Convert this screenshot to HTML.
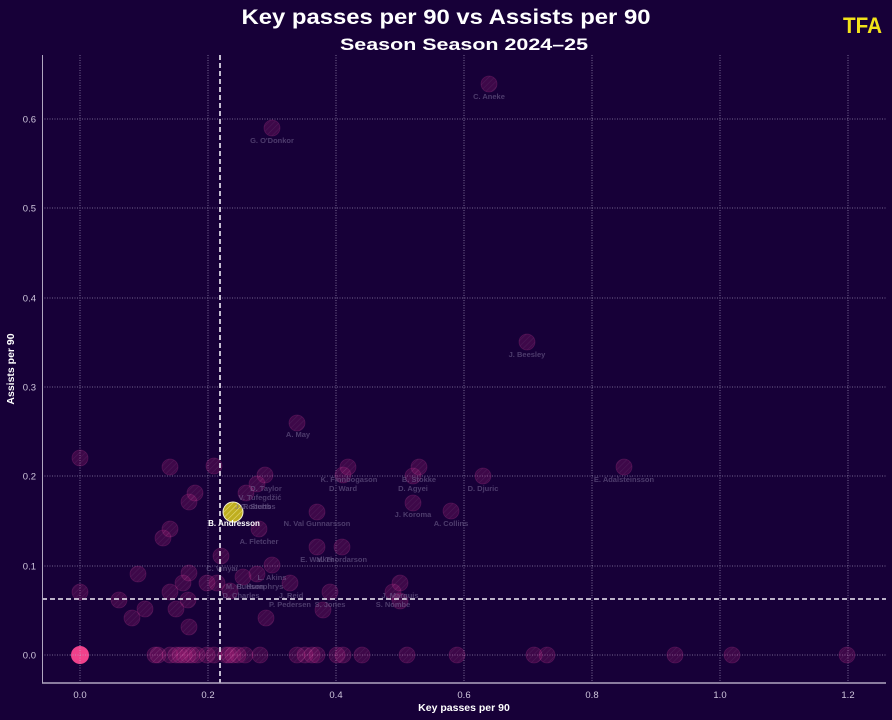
<!DOCTYPE html>
<html><head><meta charset="utf-8">
<style>
html,body{margin:0;padding:0;background:#170038;}
svg{display:block;}
text{font-family:"Liberation Sans","DejaVu Sans",sans-serif;}
.tk{font-family:"DejaVu Sans","Liberation Sans",sans-serif;font-size:9.5px;fill:#cfc6dc;}
.lb{font-size:7.5px;font-weight:bold;fill:#7a6c98;fill-opacity:0.55;text-anchor:middle;}
</style></head>
<body>
<svg width="892" height="720" viewBox="0 0 892 720" xmlns="http://www.w3.org/2000/svg">
<defs>
<pattern id="h" patternUnits="userSpaceOnUse" width="4" height="4" patternTransform="rotate(45)">
<rect width="4" height="4" fill="#b8237e"/>
<line x1="0" y1="0" x2="0" y2="4" stroke="#f070bc" stroke-width="1.1"/>
</pattern>
<pattern id="hy" patternUnits="userSpaceOnUse" width="4" height="4" patternTransform="rotate(45)">
<rect width="4" height="4" fill="#bfae1f"/>
<line x1="0" y1="0" x2="0" y2="4" stroke="#e6dc7a" stroke-width="1.2"/>
</pattern>
</defs>
<rect width="892" height="720" fill="#170038"/>

<!-- titles -->
<text x="446" y="24" text-anchor="middle" font-size="21" font-weight="bold" fill="#ffffff" textLength="409" lengthAdjust="spacingAndGlyphs">Key passes per 90 vs Assists per 90</text>
<text x="464" y="50" text-anchor="middle" font-size="17" font-weight="bold" fill="#ffffff" textLength="248" lengthAdjust="spacingAndGlyphs">Season Season 2024–25</text>
<text x="843" y="33" font-size="22" font-weight="bold" fill="#f2e21a" textLength="39" lengthAdjust="spacingAndGlyphs">TFA</text>

<!-- grid -->
<g stroke="#b0a6c8" stroke-opacity="0.8" stroke-width="0.8" stroke-dasharray="1,1.5">
<line x1="80" y1="55" x2="80" y2="683"/>
<line x1="208" y1="55" x2="208" y2="683"/>
<line x1="336" y1="55" x2="336" y2="683"/>
<line x1="464" y1="55" x2="464" y2="683"/>
<line x1="592" y1="55" x2="592" y2="683"/>
<line x1="720" y1="55" x2="720" y2="683"/>
<line x1="848" y1="55" x2="848" y2="683"/>
<line x1="42" y1="655" x2="886" y2="655"/>
<line x1="42" y1="566" x2="886" y2="566"/>
<line x1="42" y1="476" x2="886" y2="476"/>
<line x1="42" y1="387" x2="886" y2="387"/>
<line x1="42" y1="298" x2="886" y2="298"/>
<line x1="42" y1="208" x2="886" y2="208"/>
<line x1="42" y1="119" x2="886" y2="119"/>
</g>

<!-- dots -->
<g fill="url(#h)" fill-opacity="0.24" stroke="#d4409a" stroke-opacity="0.22" stroke-width="0.8">
<circle cx="489" cy="84" r="8"/>
<circle cx="272" cy="128" r="8"/>
<circle cx="527" cy="342" r="8"/>
<circle cx="297" cy="423" r="8"/>
<circle cx="80" cy="458" r="8"/>
<circle cx="170" cy="467" r="8"/>
<circle cx="214" cy="466" r="8"/>
<circle cx="265" cy="475" r="8"/>
<circle cx="348" cy="467" r="8"/>
<circle cx="343" cy="475" r="8"/>
<circle cx="419" cy="467" r="8"/>
<circle cx="413" cy="476" r="8"/>
<circle cx="483" cy="476" r="8"/>
<circle cx="624" cy="467" r="8"/>
<circle cx="257" cy="484" r="8"/>
<circle cx="246" cy="493" r="8"/>
<circle cx="195" cy="493" r="8"/>
<circle cx="189" cy="502" r="8"/>
<circle cx="317" cy="512" r="8"/>
<circle cx="413" cy="503" r="8"/>
<circle cx="451" cy="511" r="8"/>
<circle cx="170" cy="529" r="8"/>
<circle cx="163" cy="538" r="8"/>
<circle cx="259" cy="529" r="8"/>
<circle cx="221" cy="556" r="8"/>
<circle cx="317" cy="547" r="8"/>
<circle cx="342" cy="547" r="8"/>
<circle cx="272" cy="565" r="8"/>
<circle cx="138" cy="574" r="8"/>
<circle cx="189" cy="573" r="8"/>
<circle cx="183" cy="583" r="8"/>
<circle cx="170" cy="592" r="8"/>
<circle cx="207" cy="583" r="8"/>
<circle cx="217" cy="583" r="8"/>
<circle cx="243" cy="577" r="8"/>
<circle cx="257" cy="574" r="8"/>
<circle cx="230" cy="591" r="8"/>
<circle cx="80" cy="592" r="8"/>
<circle cx="119" cy="600" r="8"/>
<circle cx="145" cy="609" r="8"/>
<circle cx="132" cy="618" r="8"/>
<circle cx="176" cy="609" r="8"/>
<circle cx="188" cy="600" r="8"/>
<circle cx="189" cy="627" r="8"/>
<circle cx="266" cy="618" r="8"/>
<circle cx="290" cy="583" r="8"/>
<circle cx="330" cy="592" r="8"/>
<circle cx="323" cy="610" r="8"/>
<circle cx="400" cy="583" r="8"/>
<circle cx="393" cy="592" r="8"/>
<circle cx="400" cy="601" r="8"/>
<circle cx="155" cy="655" r="8"/>
<circle cx="158" cy="655" r="8"/>
<circle cx="170" cy="655" r="8"/>
<circle cx="176" cy="655" r="8"/>
<circle cx="180" cy="655" r="8"/>
<circle cx="184" cy="655" r="8"/>
<circle cx="188" cy="655" r="8"/>
<circle cx="192" cy="655" r="8"/>
<circle cx="197" cy="655" r="8"/>
<circle cx="207" cy="655" r="8"/>
<circle cx="214" cy="655" r="8"/>
<circle cx="226" cy="655" r="8"/>
<circle cx="229" cy="655" r="8"/>
<circle cx="233" cy="655" r="8"/>
<circle cx="238" cy="655" r="8"/>
<circle cx="245" cy="655" r="8"/>
<circle cx="260" cy="655" r="8"/>
<circle cx="297" cy="655" r="8"/>
<circle cx="305" cy="655" r="8"/>
<circle cx="312" cy="655" r="8"/>
<circle cx="317" cy="655" r="8"/>
<circle cx="337" cy="655" r="8"/>
<circle cx="343" cy="655" r="8"/>
<circle cx="362" cy="655" r="8"/>
<circle cx="407" cy="655" r="8"/>
<circle cx="457" cy="655" r="8"/>
<circle cx="534" cy="655" r="8"/>
<circle cx="547" cy="655" r="8"/>
<circle cx="675" cy="655" r="8"/>
<circle cx="732" cy="655" r="8"/>
<circle cx="847" cy="655" r="8"/>
</g>
<circle cx="80" cy="655" r="9" fill="#f0418b"/>
<g stroke="#c0b6d4" stroke-opacity="0.75" stroke-width="0.8" stroke-dasharray="1,1.5">
<line x1="80" y1="645" x2="80" y2="665"/>
<line x1="70" y1="655" x2="90" y2="655"/>
</g>
<circle cx="233" cy="512" r="10" fill="url(#hy)" stroke="#f4f0d0" stroke-width="1"/>

<!-- mean lines -->
<g stroke="#f2eef8" stroke-width="1.6" stroke-dasharray="5,3">
<line x1="220" y1="55" x2="220" y2="683"/>
<line x1="42" y1="599" x2="886" y2="599"/>
</g>

<!-- labels -->
<g class="lb">
<text class="lb" x="489" y="99">C. Aneke</text>
<text class="lb" x="272" y="143">G. O'Donkor</text>
<text class="lb" x="527" y="357">J. Beesley</text>
<text class="lb" x="298" y="437">A. May</text>
<text class="lb" x="349" y="482">K. Finnbogason</text>
<text class="lb" x="419" y="482">B. Stokke</text>
<text class="lb" x="343" y="491">D. Ward</text>
<text class="lb" x="413" y="491">D. Agyei</text>
<text class="lb" x="483" y="491">D. Djuric</text>
<text class="lb" x="624" y="482">E. Adalsteinsson</text>
<text class="lb" x="266" y="491">D. Taylor</text>
<text class="lb" x="260" y="500">V. Tufegdžić</text>
<text class="lb" x="253" y="509">J. Roberts</text>
<text class="lb" x="258" y="509">C. Stubbs</text>
<text class="lb" x="317" y="526">N. Val Gunnarsson</text>
<text class="lb" x="413" y="517">J. Koroma</text>
<text class="lb" x="451" y="526">A. Collins</text>
<text class="lb" x="259" y="544">A. Fletcher</text>
<text class="lb" x="317" y="562">E. Walker</text>
<text class="lb" x="342" y="562">V. Thordarson</text>
<text class="lb" x="222" y="571">C. Vinyai</text>
<text class="lb" x="272" y="580">L. Akins</text>
<text class="lb" x="245" y="589">M. Hudson</text>
<text class="lb" x="260" y="589">C. Humphrys</text>
<text class="lb" x="241" y="598">D. Charles</text>
<text class="lb" x="291" y="598">J. Reid</text>
<text class="lb" x="290" y="607">P. Pedersen</text>
<text class="lb" x="330" y="607">S. Jones</text>
<text class="lb" x="400" y="598">J. Marquis</text>
<text class="lb" x="393" y="607">S. Nombe</text>
</g>
<text x="234" y="526" text-anchor="middle" font-size="8" font-weight="bold" fill="#ffffff">B. Andresson</text>

<!-- spines -->
<line x1="42.5" y1="55" x2="42.5" y2="683" stroke="#b0a6c0" stroke-width="1"/>
<line x1="42" y1="683" x2="886" y2="683" stroke="#b0a6c0" stroke-width="1.6"/>

<!-- tick labels -->
<g class="tk" text-anchor="end">
<text x="36" y="658.5">0.0</text>
<text x="36" y="569.5">0.1</text>
<text x="36" y="479.5">0.2</text>
<text x="36" y="390.5">0.3</text>
<text x="36" y="301.5">0.4</text>
<text x="36" y="211.5">0.5</text>
<text x="36" y="122.5">0.6</text>
</g>
<g class="tk" text-anchor="middle">
<text x="80" y="698">0.0</text>
<text x="208" y="698">0.2</text>
<text x="336" y="698">0.4</text>
<text x="464" y="698">0.6</text>
<text x="592" y="698">0.8</text>
<text x="720" y="698">1.0</text>
<text x="848" y="698">1.2</text>
</g>

<!-- axis labels -->
<text x="464" y="711" text-anchor="middle" font-size="10.5" font-weight="bold" fill="#ffffff">Key passes per 90</text>
<text transform="translate(14,369) rotate(-90)" text-anchor="middle" font-size="10.5" font-weight="bold" fill="#ffffff">Assists per 90</text>
</svg>
</body></html>
